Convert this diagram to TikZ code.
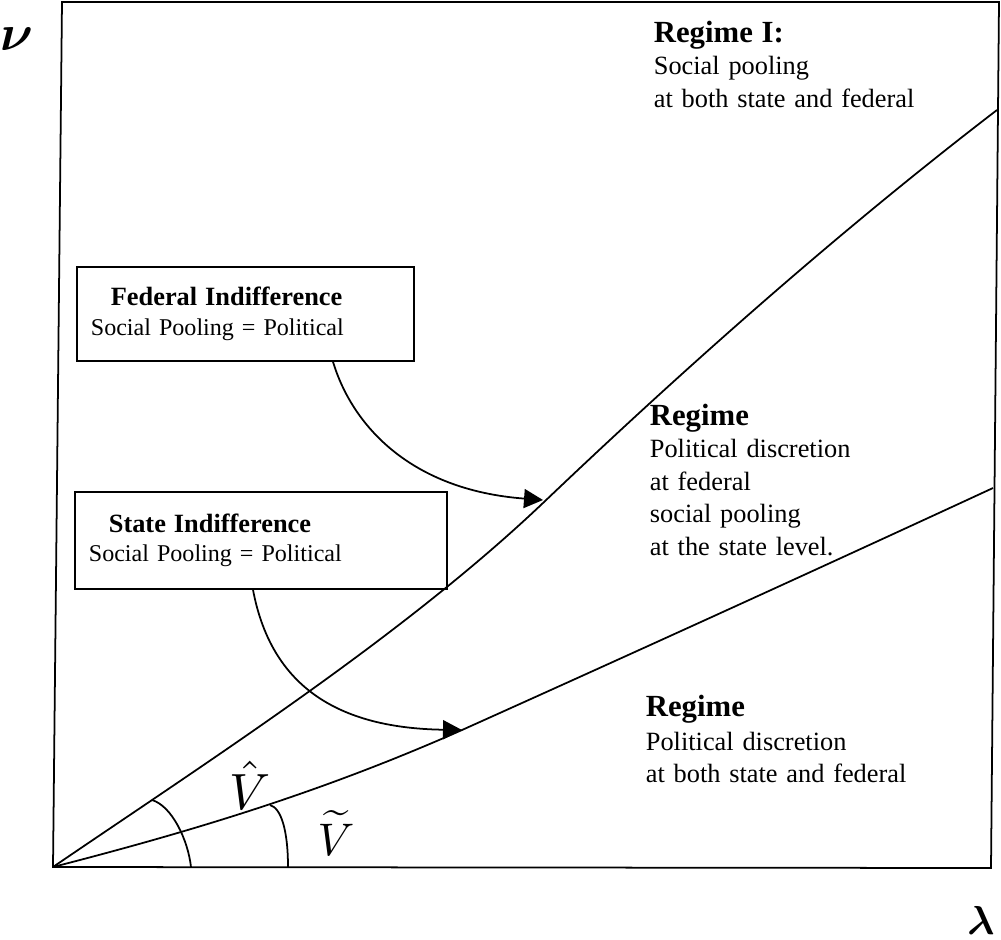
\documentclass[tikz,border=0pt]{standalone}
\usepackage{fontspec}
\setmainfont{Liberation Serif}
\usepackage{amsmath,bm}
\usepackage{tikz}
\usetikzlibrary{arrows.meta,positioning}

\newcommand{\bodyfont}{\fontsize{15}{18.5}\selectfont}
\newcommand{\headfont}{\fontsize{17.5}{18.5}\selectfont\bfseries}
\newcommand{\boxfont}{\fontsize{13.7}{16.8}\selectfont}
\newcommand{\boxhead}{\fontsize{15}{16.8}\selectfont\bfseries}

\begin{document}
\begin{tikzpicture}[x=0.02cm, y=-0.02cm,
    line width=1pt,
    >={Triangle[length=3.8mm, width=3.8mm]},
    box/.style={draw, rectangle, anchor=north west, align=left,
      inner xsep=2.8mm, inner ysep=0pt, font=\boxfont},
    regime/.style={anchor=base west, align=left, text width=7cm,
      inner sep=0pt, font=\bodyfont},
    symb/.style={inner sep=0pt}]
  \useasboundingbox (0,0) rectangle (1001,940);

  % frame and axis labels
  \coordinate (O) at (53,867);
  \draw (O) -- (991,868) -- (999,2) -- (62,2) -- cycle;
  \node[symb, scale=2.9] (nu) at (17,39) {$\bm{\nu}$};
  \node[symb, scale=2.3] (lambda) at (981,920) {$\bm{\lambda}$};

  % the two indifference curves
  \coordinate (fedtip) at (543,500);
  \coordinate (statetip) at (462,730);
  \draw (O) .. controls (213,758) and (403,636) .. (543,503)
            .. controls (693,360) and (847,225) .. (997,110);
  \draw (O) .. controls (193,831) and (322,792) .. (statetip)
            .. controls (640,650) and (820,568) .. (993,488);

  % angle marks
  \draw (152,800) .. controls (172,806) and (188,840) .. (191,867);
  \draw (270,805) .. controls (281,808) and (288,830) .. (288,867);
  \node[symb, scale=2.9] (vhat) at (250,785) {$\hat{V}$};
  \node[symb, scale=2.6] (vtilde) at (336,833) {$\widetilde{V}$};

  % regime texts
  \node[regime] (reg1) at (653,42)
    {{\headfont Regime I:}\\ Social pooling\\ at both state and federal};
  \node[regime] (reg2) at (649,425)
    {{\headfont Regime}\\ Political discretion\\ at federal\\ social pooling\\ at the state level.};
  \node[regime] (reg3) at (645,716)
    {{\headfont Regime}\\[1pt] Political discretion\\ at both state and federal};

  % indifference boxes
  \node[box, minimum width=6.74cm, minimum height=1.88cm, text width=6.18cm]
    (fed) at (76,266)
    {\hspace*{4mm}{\boxhead Federal Indifference}\\ Social Pooling = Political};
  \node[box, minimum width=7.44cm, minimum height=1.94cm, text width=6.88cm]
    (state) at (74,491)
    {\hspace*{4mm}{\boxhead State Indifference}\\ Social Pooling = Political};

  \draw[->] (fed.south -| 333,0) .. controls (352,425) and (410,490) .. (fedtip);
  \draw[->] (state.south -| 253,0) .. controls (270,680) and (330,728) .. (statetip);
\end{tikzpicture}
\end{document}
